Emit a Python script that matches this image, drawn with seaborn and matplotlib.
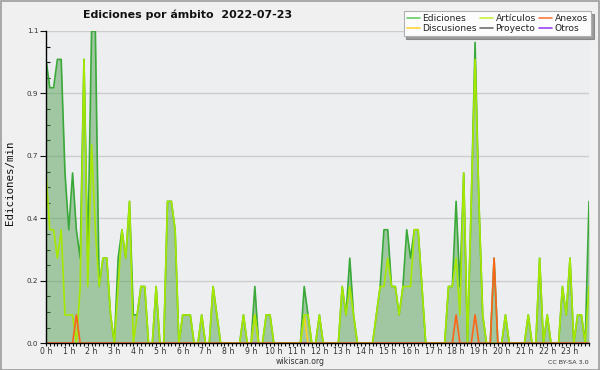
import numpy as np
import pandas as pd
import matplotlib
matplotlib.use("Agg")
import matplotlib.pyplot as plt
import seaborn as sns
from matplotlib.ticker import FixedLocator, MultipleLocator
from matplotlib.patches import Rectangle
from matplotlib.lines import Line2D

# ---- data (10-minute buckets, edits per minute) ----
hour_labels = [f"{h} h" for h in range(24)]

ediciones = [
    1.0, 0.9, 0.9, 1.0, 1.0, 0.6, 0.4, 0.6, 0.4, 0.3, 1.0, 0.3,
    1.1, 1.1, 0.2, 0.3, 0.3, 0.1, 0.0, 0.3, 0.4, 0.3, 0.5, 0.1,
    0.1, 0.2, 0.2, 0.0, 0.0, 0.2, 0.0, 0.0, 0.5, 0.5, 0.4, 0.0,
    0.1, 0.1, 0.1, 0.0, 0.0, 0.1, 0.0, 0.0, 0.2, 0.1, 0.0, 0.0,
    0.0, 0.0, 0.0, 0.0, 0.1, 0.0, 0.0, 0.2, 0.0, 0.0, 0.1, 0.1,
    0.0, 0.0, 0.0, 0.0, 0.0, 0.0, 0.0, 0.0, 0.2, 0.1, 0.0, 0.0,
    0.1, 0.0, 0.0, 0.0, 0.0, 0.0, 0.2, 0.1, 0.3, 0.1, 0.0, 0.0,
    0.0, 0.0, 0.0, 0.1, 0.2, 0.4, 0.4, 0.2, 0.2, 0.1, 0.2, 0.4,
    0.3, 0.4, 0.4, 0.2, 0.0, 0.0, 0.0, 0.0, 0.0, 0.0, 0.2, 0.2,
    0.5, 0.2, 0.6, 0.0, 0.5, 1.06, 0.5, 0.1, 0.0, 0.0, 0.3, 0.0,
    0.0, 0.1, 0.0, 0.0, 0.0, 0.0, 0.0, 0.1, 0.0, 0.0, 0.3, 0.0,
    0.1, 0.0, 0.0, 0.0, 0.2, 0.1, 0.3, 0.0, 0.1, 0.1, 0.0, 0.5,
]
articulos = [
    0.6, 0.4, 0.4, 0.3, 0.4, 0.1, 0.1, 0.1, 0.0, 0.2, 1.0, 0.2,
    0.7, 0.4, 0.2, 0.3, 0.3, 0.1, 0.0, 0.2, 0.4, 0.3, 0.5, 0.0,
    0.1, 0.2, 0.2, 0.0, 0.0, 0.2, 0.0, 0.0, 0.5, 0.5, 0.4, 0.0,
    0.1, 0.1, 0.1, 0.0, 0.0, 0.1, 0.0, 0.0, 0.2, 0.1, 0.0, 0.0,
    0.0, 0.0, 0.0, 0.0, 0.1, 0.0, 0.0, 0.1, 0.0, 0.0, 0.1, 0.1,
    0.0, 0.0, 0.0, 0.0, 0.0, 0.0, 0.0, 0.0, 0.1, 0.1, 0.0, 0.0,
    0.1, 0.0, 0.0, 0.0, 0.0, 0.0, 0.2, 0.1, 0.2, 0.1, 0.0, 0.0,
    0.0, 0.0, 0.0, 0.1, 0.2, 0.2, 0.3, 0.2, 0.2, 0.1, 0.2, 0.2,
    0.2, 0.4, 0.4, 0.2, 0.0, 0.0, 0.0, 0.0, 0.0, 0.0, 0.2, 0.2,
    0.3, 0.1, 0.6, 0.0, 0.5, 1.0, 0.5, 0.1, 0.0, 0.0, 0.0, 0.0,
    0.0, 0.1, 0.0, 0.0, 0.0, 0.0, 0.0, 0.1, 0.0, 0.0, 0.3, 0.0,
    0.1, 0.0, 0.0, 0.0, 0.2, 0.1, 0.3, 0.0, 0.1, 0.1, 0.0, 0.2,
]
anexos = [
    0.0, 0.0, 0.0, 0.0, 0.0, 0.0, 0.0, 0.0, 0.1, 0.0, 0.0, 0.0,
    0.0, 0.0, 0.0, 0.0, 0.0, 0.0, 0.0, 0.0, 0.0, 0.0, 0.0, 0.0,
    0.0, 0.0, 0.0, 0.0, 0.0, 0.0, 0.0, 0.0, 0.0, 0.0, 0.0, 0.0,
    0.0, 0.0, 0.0, 0.0, 0.0, 0.0, 0.0, 0.0, 0.0, 0.0, 0.0, 0.0,
    0.0, 0.0, 0.0, 0.0, 0.0, 0.0, 0.0, 0.0, 0.0, 0.0, 0.0, 0.0,
    0.0, 0.0, 0.0, 0.0, 0.0, 0.0, 0.0, 0.0, 0.0, 0.0, 0.0, 0.0,
    0.0, 0.0, 0.0, 0.0, 0.0, 0.0, 0.0, 0.0, 0.0, 0.0, 0.0, 0.0,
    0.0, 0.0, 0.0, 0.0, 0.0, 0.0, 0.0, 0.0, 0.0, 0.0, 0.0, 0.0,
    0.0, 0.0, 0.0, 0.0, 0.0, 0.0, 0.0, 0.0, 0.0, 0.0, 0.0, 0.0,
    0.1, 0.0, 0.0, 0.0, 0.0, 0.1, 0.0, 0.0, 0.0, 0.0, 0.3, 0.0,
    0.0, 0.0, 0.0, 0.0, 0.0, 0.0, 0.0, 0.0, 0.0, 0.0, 0.0, 0.0,
    0.0, 0.0, 0.0, 0.0, 0.0, 0.0, 0.0, 0.0, 0.0, 0.0, 0.0, 0.0,
]
discusiones = [
    0.0, 0.0, 0.0, 0.0, 0.0, 0.0, 0.0, 0.0, 0.0, 0.0, 0.0, 0.0,
    0.0, 0.0, 0.0, 0.0, 0.0, 0.0, 0.0, 0.0, 0.0, 0.0, 0.0, 0.0,
    0.0, 0.0, 0.0, 0.0, 0.0, 0.0, 0.0, 0.0, 0.0, 0.0, 0.0, 0.0,
    0.0, 0.0, 0.0, 0.0, 0.0, 0.0, 0.0, 0.0, 0.0, 0.0, 0.0, 0.0,
    0.0, 0.0, 0.0, 0.0, 0.0, 0.0, 0.0, 0.1, 0.0, 0.0, 0.0, 0.0,
    0.0, 0.0, 0.0, 0.0, 0.0, 0.0, 0.0, 0.0, 0.1, 0.0, 0.0, 0.0,
    0.0, 0.0, 0.0, 0.0, 0.0, 0.0, 0.0, 0.0, 0.0, 0.0, 0.0, 0.0,
    0.0, 0.0, 0.0, 0.0, 0.0, 0.0, 0.0, 0.0, 0.0, 0.0, 0.0, 0.0,
    0.0, 0.0, 0.0, 0.0, 0.0, 0.0, 0.0, 0.0, 0.0, 0.0, 0.0, 0.0,
    0.0, 0.0, 0.0, 0.0, 0.0, 0.0, 0.0, 0.0, 0.0, 0.0, 0.0, 0.0,
    0.0, 0.0, 0.0, 0.0, 0.0, 0.0, 0.0, 0.0, 0.0, 0.0, 0.0, 0.0,
    0.0, 0.0, 0.0, 0.0, 0.0, 0.0, 0.0, 0.0, 0.0, 0.0, 0.0, 0.0,
]
proyecto = [0.0] * 144
otros = [0.0] * 144

y_ticks = [0.0, 0.22, 0.44, 0.66, 0.88, 1.1]
y_tick_labels = ["0.0", "0.2", "0.4", "0.7", "0.9", "1.1"]

# ---- figure ----
sns.set_style("ticks")
plt.rcParams['font.family'] = ['DejaVu Sans']

W, H = 600, 370
fig = plt.figure(figsize=(6, 3.7), dpi=100, facecolor='#f0f0f0')
ax = fig.add_axes([46 / W, 1 - 343.3 / H, 543 / W, 312.3 / H])
ax.set_facecolor('#edeef0')

t = np.arange(len(ediciones)) / 6.0
df = pd.DataFrame({
    't': t,
    'Ediciones': ediciones,
    'Artículos': articulos,
    'Anexos': anexos,
    'Discusiones': discusiones,
    'Proyecto': proyecto,
    'Otros': otros,
})

colors = {
    'Ediciones': '#3aa93a',
    'Artículos': '#a6e800',
    'Anexos': '#ff6418',
    'Discusiones': '#ffd21f',
    'Proyecto': '#6f6f6f',
    'Otros': '#9a44f4',
}
legend_colors = {
    'Ediciones': '#66cc66',
    'Artículos': '#c4f03c',
    'Anexos': '#ff7a3c',
    'Discusiones': '#ffd23c',
    'Proyecto': '#6f6f6f',
    'Otros': '#9a44f4',
}

ax.fill_between(df['t'], 0, df['Ediciones'], color='#50a050', alpha=0.49,
                lw=0, zorder=1.5)
draw_order = ['Ediciones', 'Proyecto', 'Otros', 'Discusiones', 'Artículos', 'Anexos']
for name in draw_order:
    sns.lineplot(data=df, x='t', y=name, color=colors[name], lw=1.2,
                 ax=ax, zorder=2, legend=False)

ax.set_xlim(0, t[-1])
ax.set_ylim(0, 1.1)
ax.set_xlabel('')
ax.set_ylabel('')

ax.yaxis.set_major_locator(FixedLocator(y_ticks))
ax.set_yticklabels(y_tick_labels)
ax.yaxis.set_minor_locator(MultipleLocator(0.055))
ax.xaxis.set_major_locator(FixedLocator(list(range(24))))
ax.set_xticklabels(hour_labels)
ax.xaxis.set_minor_locator(MultipleLocator(1 / 6))

ax.tick_params(axis='y', which='major', direction='out', length=4, width=0.8,
               labelsize=5.2, colors='#111111', labelcolor='#333333', pad=1.5)
ax.tick_params(axis='y', which='minor', direction='in', length=3, width=0.8,
               colors='#111111')
ax.tick_params(axis='x', which='both', direction='out', length=2.5, width=0.8,
               colors='#111111')
ax.tick_params(axis='x', which='major', labelsize=5.6, labelcolor='#333333',
               pad=0.3)

ax.grid(axis='y', which='major', color='#cdcdcd', lw=1.0)
ax.grid(axis='x', visible=False)
ax.set_axisbelow(True)
for s in ['top', 'right']:
    ax.spines[s].set_visible(False)
for s in ['left', 'bottom']:
    ax.spines[s].set_linewidth(1.0)
    ax.spines[s].set_color('#000000')
    ax.spines[s].set_zorder(3)

# y label
fig.text(10 / W, 1 - 183 / H, 'Ediciones/min', rotation=90, ha='center',
         va='center', family='DejaVu Sans Mono', fontsize=7.8, color='#111111')

# title
fig.text(188 / W, 1 - 15 / H, 'Ediciones por ámbito  2022-07-23',
         ha='center', va='center', fontsize=7.9, fontweight='bold',
         color='#111111')

# legend
order = ['Ediciones', 'Discusiones', 'Artículos', 'Proyecto', 'Anexos', 'Otros']
handles = [Line2D([0], [0], color=legend_colors[n], lw=1.2) for n in order]
leg = fig.legend(handles, order, loc='upper right',
                 bbox_to_anchor=(591 / W, 1 - 11 / H), ncol=3,
                 fontsize=6.6, frameon=True, fancybox=False, shadow=True,
                 handlelength=1.4, handletextpad=0.3, columnspacing=0.35,
                 labelspacing=0.1, borderpad=0.35, borderaxespad=0)
leg.get_frame().set_facecolor('#fcfcfc')
leg.get_frame().set_edgecolor('#b0b0b0')
leg.get_frame().set_linewidth(0.8)
for txt in leg.get_texts():
    txt.set_color('#222222')

# footer
fig.text(300 / W, 1 - 362 / H, 'wikiscan.org', ha='center', va='center',
         fontsize=5.6, color='#333333')
fig.text(589 / W, 1 - 362 / H, 'CC BY-SA 3.0', ha='right', va='center',
         fontsize=4.6, color='#333333')

# outer border
fig.patches.append(Rectangle((0.5 / W, 0.5 / H), 1 - 1.5 / W, 1 - 1.5 / H,
                             transform=fig.transFigure, fill=False,
                             edgecolor='#9c9c9c', lw=1.2))

fig.savefig('out.png', dpi=100, facecolor=fig.get_facecolor())
